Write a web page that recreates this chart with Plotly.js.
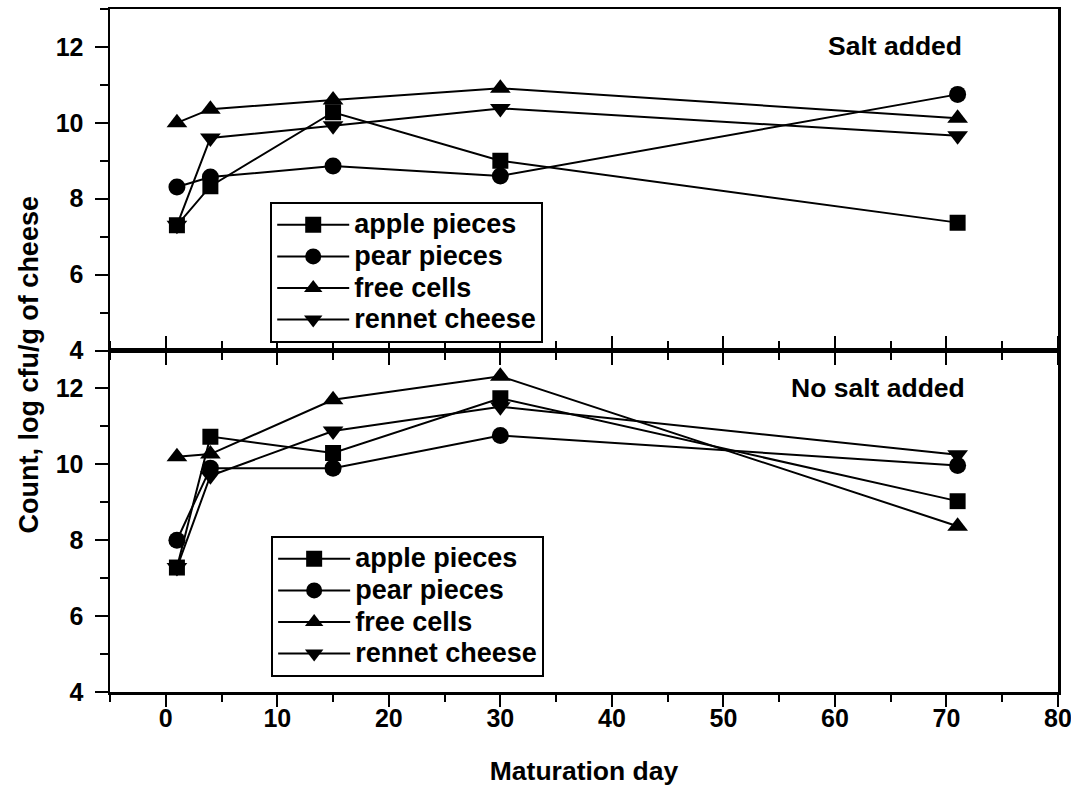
<!DOCTYPE html>
<html>
<head>
<meta charset="utf-8">
<script src="https://cdn.plot.ly/plotly-3.0.1.min.js"></script>
<style>html,body{margin:0;padding:0;background:#fff;}#chart{width:1071px;height:786px;}</style>
</head>
<body>
<div id="chart"></div>
<script>
// ---- data ----
const days = [1, 4, 15, 30, 71];
const seriesNames = ['apple pieces', 'pear pieces', 'free cells', 'rennet cheese'];

const saltApple  = [7.30, 8.33, 10.28, 9.00, 7.37];
const saltPear   = [8.31, 8.57, 8.86, 8.60, 10.75];
const saltFree   = [10.00, 10.36, 10.60, 10.91, 10.12];
const saltRennet = [7.30, 9.60, 9.92, 10.38, 9.66];

const noSaltApple  = [7.28, 10.73, 10.30, 11.74, 9.03];
const noSaltPear   = [8.00, 9.90, 9.90, 10.76, 9.97];
const noSaltFree   = [10.20, 10.27, 11.70, 12.32, 8.37];
const noSaltRennet = [7.28, 9.70, 10.88, 11.52, 10.25];

const yTickVals = [4, 6, 8, 10, 12];
const panelLabels = ['Salt added', 'No salt added'];
const xTitle = 'Maturation day';
const yTitle = 'Count, log cfu/g of cheese';

// ---- styles ----
const FONT = 'Liberation Sans, Arial, Helvetica, sans-serif';
const symbols = ['square', 'circle', 'triangle-up', 'triangle-down'];
const sizes = [16, 17, 18, 18];
const legendLabel = n => '<span style="font-size:27px">' + n + '</span>';

const saltSeries = [saltApple, saltPear, saltFree, saltRennet];
const noSaltSeries = [noSaltApple, noSaltPear, noSaltFree, noSaltRennet];

const traces = [];
saltSeries.forEach((vals, i) => {
  traces.push({
    x: days, y: vals, name: legendLabel(seriesNames[i]), type: 'scatter', mode: 'lines+markers',
    xaxis: 'x2', yaxis: 'y2', legend: 'legend',
    line: {color: '#000', width: 2},
    marker: {symbol: symbols[i], size: sizes[i], color: '#000'}
  });
});
noSaltSeries.forEach((vals, i) => {
  traces.push({
    x: days, y: vals, name: legendLabel(seriesNames[i]), type: 'scatter', mode: 'lines+markers',
    xaxis: 'x', yaxis: 'y', legend: 'legend2',
    line: {color: '#000', width: 2},
    marker: {symbol: symbols[i], size: sizes[i], color: '#000'}
  });
});

const tickFont = {family: FONT, size: 25, color: '#000', weight: 'bold'};

const yAxisBase = {
  range: [4, 13], tickmode: 'array', tickvals: yTickVals,
  ticks: 'outside', ticklen: 13, tickwidth: 2, tickcolor: '#000',
  showline: true, linewidth: 2.5, linecolor: '#000', mirror: true,
  showgrid: false, zeroline: false, tickfont: tickFont, ticklabelstandoff: 6,
  minor: {dtick: 1, tick0: 4, ticks: 'outside', ticklen: 8, tickwidth: 2, tickcolor: '#000', showgrid: false}
};
const xAxisBase = {
  range: [-5, 80], tickmode: 'linear', tick0: 0, dtick: 10,
  ticks: 'outside', ticklen: 12, tickwidth: 2, tickcolor: '#000',
  showline: true, linewidth: 2.5, linecolor: '#000',
  showgrid: false, zeroline: false, tickfont: tickFont, ticklabeloverflow: 'allow',
  minor: {dtick: 5, tick0: 0, ticks: 'outside', ticklen: 7, tickwidth: 2, tickcolor: '#000', showgrid: false}
};

const legendBase = {
  bgcolor: '#fff', bordercolor: '#000', borderwidth: 2,
  font: {family: FONT, size: 22, color: '#000', weight: 'bold'},
  xanchor: 'left', yanchor: 'top', tracegroupgap: 0, itemwidth: 72
};

const layout = {
  width: 1071, height: 786,
  margin: {l: 110, r: 13, t: 9, b: 94},
  paper_bgcolor: '#fff', plot_bgcolor: '#fff',
  showlegend: true,
  xaxis: Object.assign({}, xAxisBase, {anchor: 'y', mirror: 'ticks', ticklabelstandoff: -10,
    title: {text: xTitle, font: {family: FONT, size: 26.5, color: '#000', weight: 'bold'}, standoff: 32}}),
  yaxis: Object.assign({}, yAxisBase, {domain: [0, 0.5], anchor: 'x'}),
  xaxis2: Object.assign({}, xAxisBase, {anchor: 'y2', matches: 'x', showticklabels: false, mirror: true}),
  yaxis2: Object.assign({}, yAxisBase, {domain: [0.5, 1], anchor: 'x2'}),
  legend: Object.assign({}, legendBase, {x: 0.169, y: 0.7174}),
  legend2: Object.assign({}, legendBase, {x: 0.170, y: 0.2284}),
  annotations: [
    {text: panelLabels[0], xref: 'x2', yref: 'y2', x: 71.6, y: 12.03, xanchor: 'right', yanchor: 'middle',
     showarrow: false, font: {family: FONT, size: 26.5, color: '#000', weight: 'bold'}},
    {text: panelLabels[1], xref: 'x', yref: 'y', x: 71.8, y: 12.0, xanchor: 'right', yanchor: 'middle',
     showarrow: false, font: {family: FONT, size: 26.5, color: '#000', weight: 'bold'}},
    {text: yTitle, xref: 'paper', yref: 'paper', x: -0.085, y: 0.480, xanchor: 'center', yanchor: 'middle',
     textangle: -90, showarrow: false, font: {family: FONT, size: 27, color: '#000', weight: 'bold'}}
  ]
};

Plotly.newPlot('chart', traces, layout, {displayModeBar: false, staticPlot: true});
</script>
</body>
</html>
